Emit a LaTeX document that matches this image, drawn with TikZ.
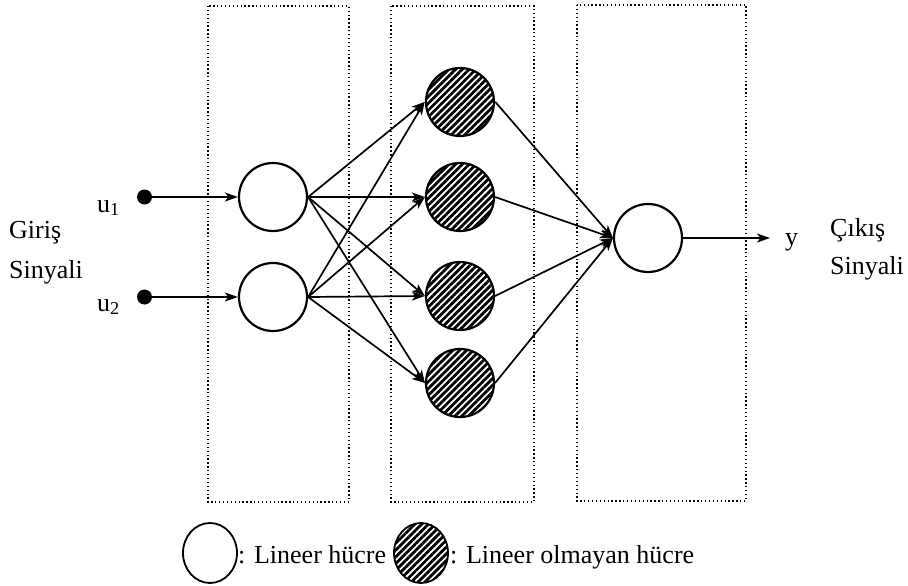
\documentclass[tikz,border=0pt]{standalone}
\usepackage{fontspec}
\setmainfont{Liberation Serif}
\usetikzlibrary{arrows.meta,patterns.meta,shapes.geometric}
\begin{document}
\begin{tikzpicture}[x=1pt,y=-1pt,
  cell/.style={circle,draw,line width=2.2pt,minimum size=68pt,inner sep=0pt},
  hatch/.style={pattern={Lines[angle=45,distance=4.8pt,line width=2.8pt]}},
  nlcell/.style={cell,hatch},
  layer/.style={draw,line width=1.3pt,dash pattern=on 1.3pt off 2.6pt},
  conn/.style={line width=1.7pt,-{Stealth[length=13pt,width=9pt,inset=3.5pt]}},
  lbl/.style={font=\fontsize{26}{31}\selectfont,inner sep=0pt},
  dot/.style={circle,fill,minimum size=15pt,inner sep=0pt},
  legcell/.style={ellipse,draw,line width=1.8pt,minimum width=54pt,minimum height=60pt,inner sep=0pt}]
\useasboundingbox (0,0) rectangle (908,586);
% layers
\draw[layer] (208,6) rectangle (349,502);
\draw[layer] (391,6) rectangle (534,502);
\draw[layer] (577,5) rectangle (746,501);
% cells
\node[cell] (i1) at (273,197) {};
\node[cell] (i2) at (273,297) {};
\node[nlcell] (h1) at (460,102) {};
\node[nlcell] (h2) at (460,197) {};
\node[nlcell] (h3) at (460,296) {};
\node[nlcell] (h4) at (460,383) {};
\node[cell] (o) at (648,238) {};
\node[dot] (d1) at (144.5,197) {};
\node[dot] (d2) at (144.5,297) {};
\coordinate (yend) at (770,238);
% labels
\node[lbl,anchor=base west] (u1) at (97,212) {u\textsubscript{1}};
\node[lbl,anchor=base west] (u2) at (97,311) {u\textsubscript{2}};
\node[lbl,anchor=base west] (gir) at (9,238) {Giriş};
\node[lbl,anchor=base west] (sin1) at (9,278) {Sinyali};
\node[lbl,anchor=base west] (cik) at (830,236) {Çıkış};
\node[lbl,anchor=base west] (sin2) at (830,274) {Sinyali};
\node[lbl,anchor=base west] (y) at (785,245) {y};
% connectors
\draw[conn] (d1.center) -- (i1.west);
\draw[conn] (d2.center) -- (i2.west);
\foreach \i in {i1,i2}{
  \foreach \h in {h1,h2,h3,h4}{
    \draw[conn] (\i.east) -- (\h.west);
  }
}
\foreach \h in {h1,h2,h3,h4}{
  \draw[conn] (\h.east) -- (o.west);
}
\draw[conn] (o.east) -- (yend);
% legend
\node[legcell] (lw) at (210,553) {};
\node[lbl,anchor=base west] (lwt) at (238,563) {: Lineer hücre};
\node[legcell,hatch] (lh) at (421,553) {};
\node[lbl,anchor=base west] (lht) at (450,563) {: Lineer olmayan hücre};
\end{tikzpicture}
\end{document}
